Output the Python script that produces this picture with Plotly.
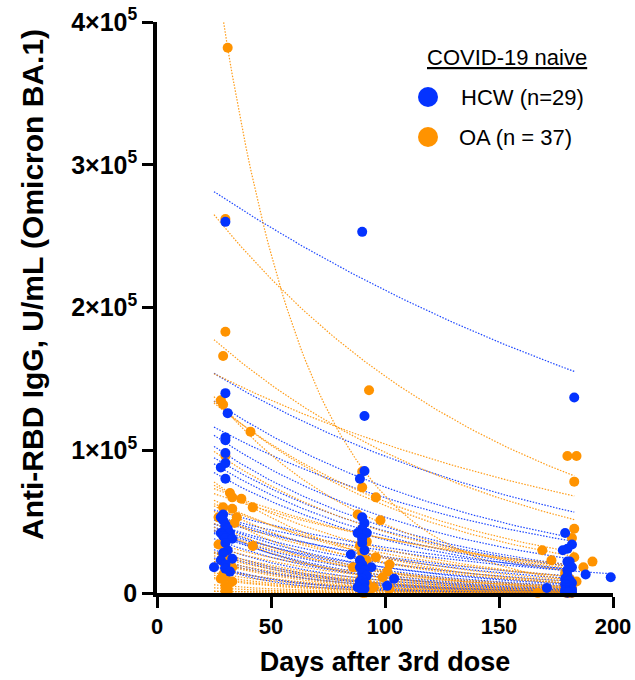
import numpy as np
import plotly.graph_objects as go

# ---------------- DATA ----------------
# HCW (n=29): day and value (U/mL) at each of three visits
hcw_d1 = [30, 30, 31, 30, 30, 30, 30, 28, 30, 29, 28, 29, 30, 30, 31, 28, 32, 29, 30, 33, 30, 31, 29, 33, 28, 30, 25, 30, 32]
hcw_v1 = [260000, 140000, 126000, 109000, 107000, 98000, 91000, 88000, 80000, 55000, 53000, 51000, 48000, 46000, 45000,
          42000, 42000, 40000, 38500, 38000, 35000, 30000, 28000, 24000, 23000, 20000, 18000, 17000, 15000]
hcw_d2 = [90, 91, 91, 89, 90, 91, 90, 92, 88, 90, 85, 90, 91, 89, 94, 90, 89, 91, 90, 92, 104, 90, 89, 91, 90, 101, 88, 91, 90]
hcw_v2 = [253000, 124000, 85500, 80000, 53000, 49000, 45000, 42000, 42000, 38000, 27000, 35000, 30000, 23000, 18000,
          20000, 18000, 16000, 14000, 12000, 10000, 10000, 8000, 7000, 6000, 5000, 4000, 3000, 2000]
hcw_d3 = [183, 179, 182, 180, 178, 180, 181, 182, 180, 188, 180, 199, 179, 181, 180, 182, 179, 180, 181, 171, 180, 182, 179, 180, 181, 180, 179, 182, 180]
hcw_v3 = [137000, 42000, 34000, 31000, 30000, 22000, 22000, 18000, 16000, 13000, 12000, 11000, 10000, 9000, 8000,
          7000, 6000, 5000, 4000, 3500, 3000, 2500, 2000, 1500, 1000, 800, 500, 300, 200]

# OA (n=37)
oa_d1 = [31, 30, 30, 29, 28, 29, 41, 30, 32, 33, 37, 29, 33, 42, 27, 35, 34, 30, 31, 27, 42, 30, 29, 31, 32, 29, 30, 33, 31, 29, 30, 28, 33, 30, 31, 30, 31]
oa_v1 = [382000, 262000, 183000, 166000, 135000, 132000, 113000, 96000, 70000, 67000, 66000, 60000, 59000, 60000, 53000,
         53000, 49000, 45000, 40000, 34000, 33000, 30000, 27000, 25000, 23000, 22000, 20000, 18000, 15000, 13000,
         11000, 10000, 8000, 5000, 3000, 1000, 1000]
oa_d2 = [90, 93, 90, 96, 88, 98, 90, 91, 90, 92, 89, 91, 90, 96, 92, 102, 86, 90, 101, 92, 90, 99, 91, 89, 90, 92, 91, 90, 95, 102, 90, 91, 93, 90, 92, 90, 91]
oa_v2 = [85000, 142000, 74000, 67000, 55000, 51000, 45000, 40000, 38000, 36000, 33000, 30000, 28000, 25000, 23000,
         20000, 18000, 16000, 15000, 14000, 12000, 11000, 10000, 9000, 8000, 7000, 6000, 5000, 4000, 3000,
         2500, 2000, 1500, 1000, 500, 200, 100]
oa_d3 = [187, 184, 183, 180, 183, 182, 169, 183, 173, 191, 179, 180, 181, 184, 180, 182, 179, 180, 181, 180, 182, 179, 180, 181, 180, 182, 179, 180, 181, 180, 182, 180, 179, 181, 167, 180, 182]
oa_v3 = [18000, 96000, 78000, 96000, 45000, 38500, 30000, 25000, 23000, 22000, 14000, 12000, 10000, 8000, 9000,
         7000, 6000, 5000, 4500, 4000, 3500, 3000, 2500, 2000, 1800, 1500, 1200, 1000, 800, 600,
         500, 400, 300, 200, 100, 50, 0]

x_ticks = [0, 50, 100, 150, 200]
y_ticks = [0, 100000, 200000, 300000, 400000]
y_ticktext = ["0", "1×10<sup>5</sup>", "2×10<sup>5</sup>", "3×10<sup>5</sup>", "4×10<sup>5</sup>"]

BLUE = "#0433FF"
ORANGE = "#FF9300"
FIT_START, FIT_END = 25, 183


def exp_fit(t, y):
    t = np.asarray(t, float)
    y = np.asarray(y, float)
    ks = np.linspace(0, 0.1, 5001)
    E = np.exp(-np.outer(ks, t))
    A = (E @ y) / np.sum(E * E, axis=1)
    sse = np.sum((y[None, :] - A[:, None] * E) ** 2, axis=1)
    i = int(np.argmin(sse))
    return A[i], ks[i]


def fit_lines(d1, v1, d2, v2, d3, v3):
    xs, ys = [], []
    for a in zip(d1, v1, d2, v2, d3, v3):
        t = [a[0], a[2], a[4]]
        y = [a[1], a[3], a[5]]
        A, k = exp_fit(t, y)
        end = a[4] if a[4] > 195 else FIT_END
        tt = np.linspace(FIT_START, end, 80)
        xs += list(tt) + [None]
        ys += list(A * np.exp(-k * tt)) + [None]
    return xs, ys


fig = go.Figure()
for grp, col in [((hcw_d1, hcw_v1, hcw_d2, hcw_v2, hcw_d3, hcw_v3), BLUE),
                 ((oa_d1, oa_v1, oa_d2, oa_v2, oa_d3, oa_v3), ORANGE)]:
    lx, ly = fit_lines(*grp)
    fig.add_trace(go.Scatter(x=lx, y=ly, mode="lines", showlegend=False, hoverinfo="skip",
                             line=dict(color=col, width=1.2, dash="1.5px,1.5px"), opacity=0.9))

fig.add_trace(go.Scatter(x=oa_d1 + oa_d2 + oa_d3, y=oa_v1 + oa_v2 + oa_v3, mode="markers", name="OA (n = 37)",
                         marker=dict(color=ORANGE, size=10), cliponaxis=False, showlegend=False))
fig.add_trace(go.Scatter(x=hcw_d1 + hcw_d2 + hcw_d3, y=hcw_v1 + hcw_v2 + hcw_v3, mode="markers", name="HCW (n=29)",
                         marker=dict(color=BLUE, size=10), cliponaxis=False, showlegend=False))

# plot area targeted at screen x 157..613, y 22..593 (body margin removed below)
PL, PR, PT, PB = 157, 613, 22, 593
W, H = 635, 680
L, T = PL, PT
R, B = W - PR, H - PB
pw, ph = PR - PL, PB - PT


def px(x):
    return (x - PL) / pw


def py(y):
    return (PB - y) / ph


fig.update_layout(
    width=W, height=H, margin=dict(l=L, r=R, t=T, b=B, autoexpand=False),
    paper_bgcolor="white", plot_bgcolor="white",
    font=dict(family="Liberation Sans, Arial, sans-serif", color="black"),
    xaxis=dict(range=[0, 200], tickvals=x_ticks, ticks="outside", ticklen=11, tickwidth=3, tickcolor="black",
               showline=True, linewidth=3.5, linecolor="black", showgrid=False, zeroline=False, automargin=False,
               tickfont=dict(size=22, weight="bold"), ticklabeloverflow="allow",
               title=dict(text="Days after 3rd dose", font=dict(size=27, weight="bold"), standoff=15)),
    yaxis=dict(range=[0, 400000], tickvals=y_ticks, ticktext=y_ticktext, ticks="outside", ticklen=11, tickwidth=3,
               tickcolor="black", showline=True, linewidth=3.5, linecolor="black", showgrid=False, zeroline=False,
               automargin=False, ticklabeloverflow="allow",
               tickfont=dict(size=25, weight="bold")),
)

# y-axis title placed as rotated text
fig.add_annotation(x=px(32), y=py(285), xref="paper", yref="paper", text="<b>Anti-RBD IgG, U/mL (Omicron BA.1)</b>",
                   textangle=-90, showarrow=False, font=dict(size=30, color="black"),
                   xanchor="center", yanchor="middle")

# Legend drawn as text + circles
fig.add_annotation(x=px(507), y=py(57), xref="paper", yref="paper", text="<u>COVID-19 naive</u>",
                   showarrow=False, font=dict(size=22, color="black"), xanchor="center", yanchor="middle")
for cy, txt, col, tx in [(97, "HCW (n=29)", BLUE, 459), (137, "OA (n = 37)", ORANGE, 457)]:
    r = 10
    fig.add_shape(type="circle", xref="paper", yref="paper", x0=px(428 - r), x1=px(428 + r), y0=py(cy + r), y1=py(cy - r),
                  fillcolor=col, line=dict(color=col, width=0))
    fig.add_annotation(x=px(tx), y=py(cy), xref="paper", yref="paper", text=txt, showarrow=False,
                       font=dict(size=22, color="black"), xanchor="left", yanchor="middle")

fig.write_html("out.html", config={"displayModeBar": False},
               post_script="document.body.style.margin='0';document.body.style.overflow='hidden';")
